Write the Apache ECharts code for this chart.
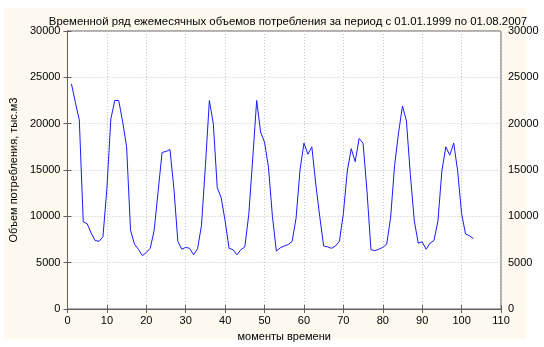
<!DOCTYPE html>
<html>
<head>
<meta charset="utf-8">
<script src="https://cdn.jsdelivr.net/npm/echarts@6/dist/echarts.min.js"></script>
<style>
html,body{margin:0;padding:0;background:#fff;}
#c{width:544px;height:347px;}
</style>
</head>
<body>
<div id="c"></div>
<script>
var titleText = 'Временной ряд ежемесячных объемов потребления за период с 01.01.1999 по 01.08.2007';
var xName = 'моменты времени';
var yName = 'Объем потребления, тыс.м3';
var months = [];
for (var i = 1; i <= 103; i++) months.push(i);
var values = [
  24300, 22300, 20400, 9400, 9200, 8200, 7400, 7300, 7800, 13000,
  20500, 22500, 22500, 20200, 17500, 8500, 7000, 6450, 5750, 6100,
  6550, 8500, 12700, 16900, 17000, 17200, 13000, 7300, 6450, 6650,
  6550, 5850, 6500, 9000, 15500, 22500, 20000, 13100, 12000, 9500,
  6550, 6400, 5850, 6400, 6700, 10200, 16200, 22500, 19100, 18000,
  15300, 10000, 6250, 6600, 6800, 6950, 7300, 9800, 15000, 17900,
  16700, 17500, 13500, 10000, 6800, 6700, 6550, 6800, 7300, 10300,
  14900, 17300, 15900, 18400, 17900, 12700, 6400, 6300, 6450, 6650,
  7000, 9900, 15500, 19000, 21900, 20300, 14500, 9500, 7100, 7250,
  6450, 7100, 7400, 9500, 14900, 17500, 16600, 17900, 14900, 10300,
  8100, 7900, 7600
];
var xMin = 0, xMax = 110, xStep = 10;
var yMin = 0, yMax = 30000, yStep = 5000;

var data = months.map(function (m, i) { return [m, values[i]]; });
var font = '"Liberation Sans", Arial, sans-serif';
var chart = echarts.init(document.getElementById('c'), null, {renderer: 'canvas'});
var splitLine = {show: true, lineStyle: {color: '#c8c8c8', type: [1, 2], width: 1}};
var axisLine = {show: true, lineStyle: {color: '#606060', width: 1}};
var tick = {show: true, inside: true, length: 4, lineStyle: {color: '#606060'}};
var plain = function (v) { return String(v); };
var lbl = {color: '#000', fontSize: 11, fontFamily: font, formatter: plain};
chart.setOption({
  backgroundColor: '#ffffff',
  animation: false,
  graphic: [{
    type: 'rect', z: -10, silent: true,
    shape: {x: 4, y: 8, width: 522, height: 331},
    style: {fill: '#fdf9ee'}
  }],
  title: {
    text: titleText, left: 283, top: 11, textAlign: 'center',
    textStyle: {fontSize: 11.4, fontWeight: 'normal', color: '#000', fontFamily: font}
  },
  grid: {
    left: 64, right: 43, top: 31, bottom: 34,
    show: true, backgroundColor: '#ffffff', borderColor: '#606060', borderWidth: 1
  },
  xAxis: [{
    type: 'value', min: xMin, max: xMax, interval: xStep, position: 'bottom',
    name: xName, nameLocation: 'middle', nameGap: 22,
    nameTextStyle: {fontSize: 11, color: '#000', fontFamily: font},
    axisLine: axisLine, axisTick: tick, splitLine: splitLine,
    axisLabel: Object.assign({margin: 6}, lbl)
  }, {
    type: 'value', min: xMin, max: xMax, interval: xStep, position: 'top',
    axisLine: axisLine, axisTick: tick, splitLine: {show: false},
    axisLabel: {show: false}
  }],
  yAxis: [{
    type: 'value', min: yMin, max: yMax, interval: yStep, position: 'left',
    name: yName, nameLocation: 'middle', nameGap: 43, nameRotate: 90,
    nameTextStyle: {fontSize: 11, color: '#000', fontFamily: font},
    axisLine: axisLine, axisTick: tick, splitLine: splitLine,
    axisLabel: Object.assign({margin: 7}, lbl)
  }, {
    type: 'value', min: yMin, max: yMax, interval: yStep, position: 'right',
    axisLine: axisLine, axisTick: tick, splitLine: {show: false},
    axisLabel: Object.assign({margin: 7}, lbl)
  }],
  series: [{
    type: 'line', data: data, xAxisIndex: 0, yAxisIndex: 0,
    showSymbol: false, symbol: 'none',
    lineStyle: {color: '#1a1aff', width: 1}
  }]
});
</script>
</body>
</html>
